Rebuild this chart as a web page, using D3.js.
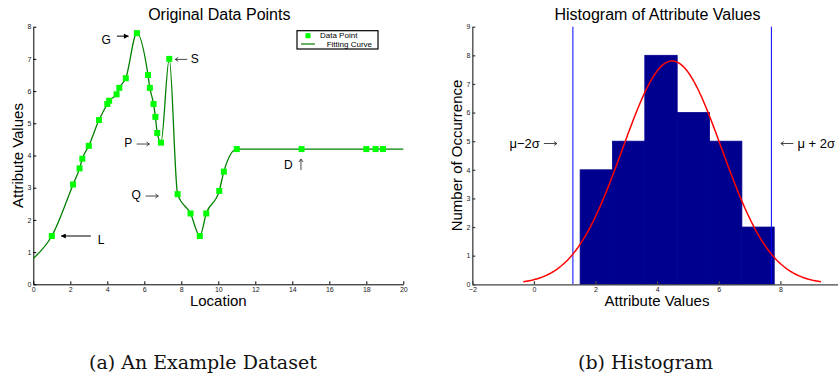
<!DOCTYPE html>
<html>
<head>
<meta charset="utf-8">
<script src="https://cdn.jsdelivr.net/npm/d3@7"></script>
<style>
  body { margin: 0; background: #fff; }
  text { font-family: "Liberation Sans", Arial, sans-serif; }
  .tick text { font-size: 7px; fill: #222; }
  .caption { font-family: "DejaVu Serif", serif; font-size: 19px; fill: #111; }
</style>
</head>
<body>
<div id="chart"></div>
<script>
const svgWidth = 838;
const svgHeight = 377;

// data points (location, attribute value)
const locations = [1, 2.15, 2.5, 2.65, 3, 3.55, 4, 4.1, 4.5, 4.65, 5, 5.6, 6.2, 6.3, 6.5, 6.6, 6.7, 6.9,
  7.35, 7.8, 8.5, 9, 9.35, 10.05, 10.3, 11, 14.5, 18, 18.5, 18.9];
const attrValues = [1.5, 3.1, 3.6, 3.9, 4.3, 5.1, 5.6, 5.7, 5.9, 6.1, 6.4, 7.8, 6.5, 6.1, 5.6, 5.2, 4.7, 4.4,
  7.0, 2.8, 2.2, 1.5, 2.2, 2.9, 3.5, 4.2, 4.2, 4.2, 4.2, 4.2];

// fitting curve end points
const curveStart = [0, 0.8];
const curveEnd = [20, 4.2];

// histogram of the attribute values
const histCounts = [4, 5, 8, 6, 5, 2];

// ticks
const leftXTicks = d3.range(0, 21, 2);
const leftYTicks = d3.range(0, 9, 1);
const rightXTicks = [-2, 0, 2, 4, 6, 8];
const rightYTicks = d3.range(0, 10, 1);

const svg = d3.select("#chart")
  .append("svg")
  .attr("width", svgWidth)
  .attr("height", svgHeight);

svg.append("defs").append("marker")
  .attr("id", "head")
  .attr("viewBox", "0 0 10 10")
  .attr("refX", 9)
  .attr("refY", 5)
  .attr("markerWidth", 7)
  .attr("markerHeight", 5)
  .attr("markerUnits", "userSpaceOnUse")
  .attr("orient", "auto")
  .append("path")
  .attr("d", "M0,0 L10,5 L0,10 z")
  .attr("fill", "#000");

// ---------------- left panel: original data points ----------------
const xL = d3.scaleLinear().domain([0, 20]).range([33.3, 403.3]);
const yL = d3.scaleLinear().domain([0, 8]).range([284.3, 26.7]);

const left = svg.append("g");

left.append("g")
  .attr("transform", `translate(0, ${yL(0)})`)
  .call(d3.axisBottom(xL).tickValues(leftXTicks).tickSizeInner(-3).tickSizeOuter(0).tickPadding(3))
  .call(g => g.selectAll("path, line").attr("stroke", "#000"));

left.append("g")
  .attr("transform", `translate(${xL(0)}, 0)`)
  .call(d3.axisLeft(yL).tickValues(leftYTicks).tickSizeInner(-3).tickSizeOuter(0).tickPadding(2))
  .call(g => g.selectAll("path, line").attr("stroke", "#000"));

const points = locations.map((x, i) => ({x: x, y: attrValues[i]}));
const fitPoints = [{x: curveStart[0], y: curveStart[1]}, ...points, {x: curveEnd[0], y: curveEnd[1]}];

const line = d3.line()
  .x(d => xL(d.x))
  .y(d => yL(d.y))
  .curve(d3.curveMonotoneX);

left.append("path")
  .datum(fitPoints)
  .attr("d", line)
  .attr("fill", "none")
  .attr("stroke", "#008000")
  .attr("stroke-width", 1.3);

left.selectAll("rect.pt")
  .data(points)
  .join("rect")
  .attr("class", "pt")
  .attr("x", d => xL(d.x) - 3)
  .attr("y", d => yL(d.y) - 3)
  .attr("width", 6)
  .attr("height", 6)
  .attr("fill", "#00ff00");

left.append("text")
  .attr("x", (xL(0) + xL(20)) / 2 + 1)
  .attr("y", 19.5)
  .attr("text-anchor", "middle")
  .attr("font-size", 16)
  .text("Original Data Points");

left.append("text")
  .attr("x", (xL(0) + xL(20)) / 2)
  .attr("y", 306)
  .attr("text-anchor", "middle")
  .attr("font-size", 15)
  .text("Location");

left.append("text")
  .attr("transform", `translate(23, ${(yL(0) + yL(8)) / 2}) rotate(-90)`)
  .attr("text-anchor", "middle")
  .attr("font-size", 15)
  .text("Attribute Values");

// legend
const legend = left.append("g").attr("transform", "translate(297, 30.7)");
legend.append("rect")
  .attr("width", 81)
  .attr("height", 18.3)
  .attr("fill", "#fff")
  .attr("stroke", "#000")
  .attr("stroke-width", 1.2);
legend.append("rect")
  .attr("x", 8.5).attr("y", 2.5)
  .attr("width", 5).attr("height", 5)
  .attr("fill", "#00ff00");
legend.append("text")
  .attr("x", 23).attr("y", 7.8)
  .attr("font-size", 8)
  .text("Data Point");
legend.append("line")
  .attr("x1", 4).attr("x2", 18)
  .attr("y1", 13.3).attr("y2", 13.3)
  .attr("stroke", "#008000")
  .attr("stroke-width", 1.2);
legend.append("text")
  .attr("x", 29.7).attr("y", 16)
  .attr("font-size", 8)
  .text("Fitting Curve");

// annotations
function pt(i) { return [xL(locations[i]), yL(attrValues[i])]; }

function thinArrow(g, x1, y1, x2, y2) {
  const a = Math.atan2(y2 - y1, x2 - x1);
  const h = 3.5;
  g.append("path")
    .attr("d", `M${x1},${y1} L${x2},${y2} M${x2 - h * Math.cos(a - 0.6)},${y2 - h * Math.sin(a - 0.6)} L${x2},${y2} L${x2 - h * Math.cos(a + 0.6)},${y2 - h * Math.sin(a + 0.6)}`)
    .attr("fill", "none")
    .attr("stroke", "#333")
    .attr("stroke-width", 0.9);
}

const [gx, gy] = pt(11);
left.append("text").attr("x", gx - 26).attr("y", gy + 11).attr("text-anchor", "end").attr("font-size", 12).text("G");
left.append("line")
  .attr("x1", gx - 20).attr("x2", gx - 8.5)
  .attr("y1", gy + 3).attr("y2", gy + 3)
  .attr("stroke", "#000").attr("stroke-width", 1)
  .attr("marker-end", "url(#head)");

const [sx, sy] = pt(18);
thinArrow(left, sx + 18, sy + 0.5, sx + 6, sy + 0.5);
left.append("text").attr("x", sx + 21.5).attr("y", sy + 4.5).attr("font-size", 12).text("S");

const [px, py] = pt(17);
left.append("text").attr("x", px - 36.7).attr("y", py + 4.7).attr("font-size", 12).text("P");
thinArrow(left, px - 24.3, py + 1.4, px - 11.5, py + 1.4);

const [qx, qy] = pt(19);
left.append("text").attr("x", qx - 46).attr("y", qy + 5.2).attr("font-size", 12).text("Q");
thinArrow(left, qx - 32, qy + 1.9, qx - 19.3, qy + 1.9);

const [lx, ly] = pt(0);
left.append("line")
  .attr("x1", lx + 39).attr("x2", lx + 9.5)
  .attr("y1", ly).attr("y2", ly)
  .attr("stroke", "#000").attr("stroke-width", 1)
  .attr("marker-end", "url(#head)");
left.append("text").attr("x", lx + 46).attr("y", ly + 8).attr("font-size", 12).text("L");

const [dx, dy] = pt(26);
left.append("text").attr("x", dx - 17.6).attr("y", dy + 20.3).attr("font-size", 12).text("D");
thinArrow(left, dx - 0.6, dy + 21, dx - 0.6, dy + 10);

// ---------------- right panel: histogram ----------------
const xR = d3.scaleLinear().domain([-2, 10]).range([472.3, 842]);
const yR = d3.scaleLinear().domain([0, 9]).range([284.3, 26.7]);

const right = svg.append("g");

const vMin = d3.min(attrValues);
const vMax = d3.max(attrValues);
const binWidth = (vMax - vMin) / histCounts.length;
const bins = histCounts.map((c, i) => ({x0: vMin + i * binWidth, x1: vMin + (i + 1) * binWidth, count: c}));

right.selectAll("rect.bar")
  .data(bins)
  .join("rect")
  .attr("class", "bar")
  .attr("x", d => xR(d.x0))
  .attr("y", d => yR(d.count))
  .attr("width", d => xR(d.x1) - xR(d.x0))
  .attr("height", d => yR(0) - yR(d.count))
  .attr("fill", "#00008f")
  .attr("stroke", "#00008f")
  .attr("stroke-width", 0.8);

// normal fit from the mean and standard deviation of the values
const mu = d3.mean(attrValues);
const sigma = d3.deviation(attrValues);
const scale = attrValues.length * binWidth / (sigma * Math.sqrt(2 * Math.PI));
const gauss = d3.range(0, 201).map(i => {
  const x = mu - 3 * sigma + i * 6 * sigma / 200;
  return {x: x, y: scale * Math.exp(-((x - mu) ** 2) / (2 * sigma * sigma))};
});

right.selectAll("line.sig")
  .data([mu - 2 * sigma, mu + 2 * sigma])
  .join("line")
  .attr("class", "sig")
  .attr("x1", d => xR(d)).attr("x2", d => xR(d))
  .attr("y1", yR(0)).attr("y2", yR(9))
  .attr("stroke", "#0000ff")
  .attr("stroke-width", 1);

right.append("path")
  .datum(gauss)
  .attr("d", d3.line().x(d => xR(d.x)).y(d => yR(d.y)))
  .attr("fill", "none")
  .attr("stroke", "#ff0000")
  .attr("stroke-width", 1.5);

right.append("g")
  .attr("transform", `translate(0, ${yR(0)})`)
  .call(d3.axisBottom(xR).tickValues(rightXTicks).tickSizeInner(-3).tickSizeOuter(0).tickPadding(3))
  .call(g => g.selectAll("path, line").attr("stroke", "#444").attr("stroke-width", 1.3));

right.append("g")
  .attr("transform", `translate(${xR(-2)}, 0)`)
  .call(d3.axisLeft(yR).tickValues(rightYTicks).tickSizeInner(-3).tickSizeOuter(0).tickPadding(2))
  .call(g => g.selectAll("path, line").attr("stroke", "#444").attr("stroke-width", 1.3));

right.append("text")
  .attr("x", 657.5)
  .attr("y", 19.5)
  .attr("text-anchor", "middle")
  .attr("font-size", 16)
  .text("Histogram of Attribute Values");

right.append("text")
  .attr("x", 657)
  .attr("y", 306)
  .attr("text-anchor", "middle")
  .attr("font-size", 15)
  .text("Attribute Values");

right.append("text")
  .attr("transform", `translate(462, ${(yR(0) + yR(9)) / 2}) rotate(-90)`)
  .attr("text-anchor", "middle")
  .attr("font-size", 15)
  .text("Number of Occurrence");

const lo = xR(mu - 2 * sigma);
const hi = xR(mu + 2 * sigma);
right.append("text").attr("x", lo - 63.5).attr("y", 147.5).attr("font-size", 13).text("μ−2σ");
thinArrow(right, lo - 29, 143.5, lo - 16, 143.5);
thinArrow(right, hi + 22, 143.5, hi + 9.5, 143.5);
right.append("text").attr("x", hi + 26).attr("y", 147.5).attr("font-size", 13).text("μ + 2σ");

// captions
svg.append("text")
  .attr("class", "caption")
  .attr("x", 89)
  .attr("y", 369)
  .text("(a) An Example Dataset");

svg.append("text")
  .attr("class", "caption")
  .attr("x", 578)
  .attr("y", 369)
  .text("(b) Histogram");
</script>
</body>
</html>
